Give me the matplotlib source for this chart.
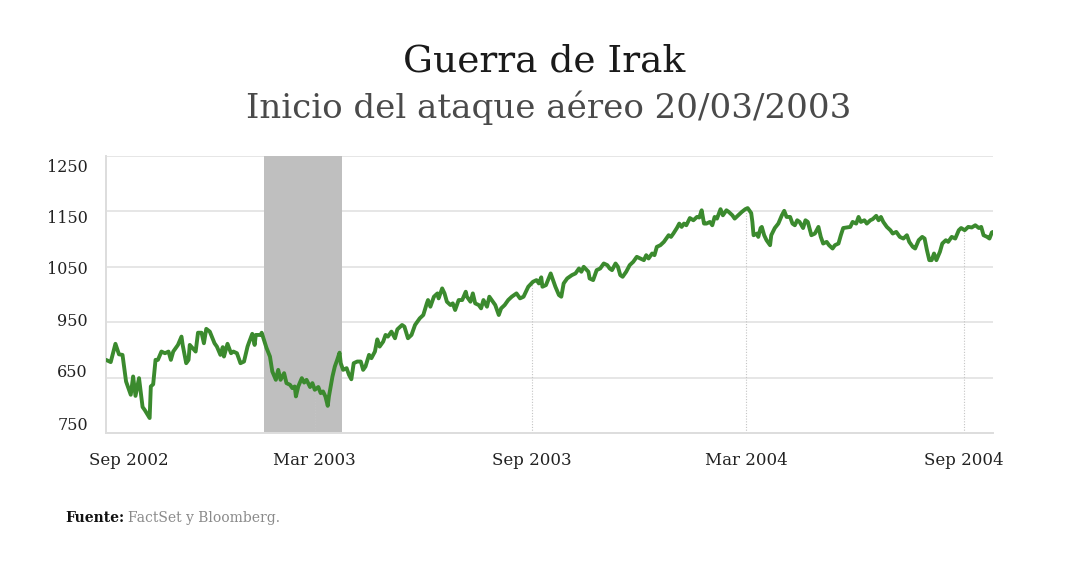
import matplotlib

matplotlib.use("Agg")
import matplotlib.dates as mdates
import matplotlib.pyplot as plt
import numpy as np
import pandas as pd

# índice (cierres aproximados)
dates = [
    "2002-09-05", "2002-09-09", "2002-09-13", "2002-09-16", "2002-09-19", "2002-09-22",
    "2002-09-26", "2002-09-28", "2002-09-30", "2002-10-03", "2002-10-06", "2002-10-08",
    "2002-10-12", "2002-10-13", "2002-10-15", "2002-10-17", "2002-10-19", "2002-10-22",
    "2002-10-25", "2002-10-28", "2002-10-30", "2002-11-01", "2002-11-05", "2002-11-08",
    "2002-11-09", "2002-11-12", "2002-11-14", "2002-11-15", "2002-11-20", "2002-11-22",
    "2002-11-25", "2002-11-27", "2002-11-29", "2002-12-02", "2002-12-06", "2002-12-08",
    "2002-12-11", "2002-12-13", "2002-12-14", "2002-12-17", "2002-12-20", "2002-12-22",
    "2002-12-25", "2002-12-28", "2002-12-31", "2003-01-03", "2003-01-04", "2003-01-07",
    "2003-01-09", "2003-01-10", "2003-01-14", "2003-01-15", "2003-01-19", "2003-01-22",
    "2003-01-24", "2003-01-27", "2003-01-29", "2003-01-31", "2003-02-03", "2003-02-05",
    "2003-02-08", "2003-02-10", "2003-02-12", "2003-02-13", "2003-02-15", "2003-02-18",
    "2003-02-20", "2003-02-22", "2003-02-25", "2003-02-27", "2003-03-01", "2003-03-04",
    "2003-03-06", "2003-03-08", "2003-03-10", "2003-03-12", "2003-03-13", "2003-03-16",
    "2003-03-18", "2003-03-20", "2003-03-22", "2003-03-23", "2003-03-25", "2003-03-28",
    "2003-03-30", "2003-04-01", "2003-04-03", "2003-04-06", "2003-04-09", "2003-04-11",
    "2003-04-13", "2003-04-16", "2003-04-18", "2003-04-21", "2003-04-23", "2003-04-25",
    "2003-04-28", "2003-04-30", "2003-05-02", "2003-05-05", "2003-05-08", "2003-05-10",
    "2003-05-14", "2003-05-16", "2003-05-19", "2003-05-22", "2003-05-25", "2003-05-29",
    "2003-06-01", "2003-06-04", "2003-06-05", "2003-06-07", "2003-06-10", "2003-06-13",
    "2003-06-14", "2003-06-17", "2003-06-19", "2003-06-21", "2003-06-24", "2003-06-26",
    "2003-06-28", "2003-07-01", "2003-07-04", "2003-07-07", "2003-07-08", "2003-07-11",
    "2003-07-13", "2003-07-15", "2003-07-18", "2003-07-20", "2003-07-22", "2003-07-25",
    "2003-07-27", "2003-07-29", "2003-08-01", "2003-08-04", "2003-08-06", "2003-08-09",
    "2003-08-12", "2003-08-15", "2003-08-19", "2003-08-22", "2003-08-25", "2003-08-29",
    "2003-09-02", "2003-09-05", "2003-09-07", "2003-09-09", "2003-09-10", "2003-09-13",
    "2003-09-17", "2003-09-19", "2003-09-21", "2003-09-24", "2003-09-26", "2003-09-28",
    "2003-10-01", "2003-10-05", "2003-10-08", "2003-10-11", "2003-10-13", "2003-10-15",
    "2003-10-19", "2003-10-20", "2003-10-23", "2003-10-26", "2003-10-29", "2003-11-01",
    "2003-11-04", "2003-11-06", "2003-11-08", "2003-11-11", "2003-11-13", "2003-11-15",
    "2003-11-17", "2003-11-20", "2003-11-23", "2003-11-26", "2003-11-29", "2003-12-02",
    "2003-12-05", "2003-12-07", "2003-12-09", "2003-12-12", "2003-12-14", "2003-12-16",
    "2003-12-19", "2003-12-22", "2003-12-24", "2003-12-26", "2003-12-28", "2003-12-30",
    "2004-01-02", "2004-01-04", "2004-01-06", "2004-01-08", "2004-01-10", "2004-01-13",
    "2004-01-16", "2004-01-19", "2004-01-21", "2004-01-23", "2004-01-25", "2004-01-27",
    "2004-01-30", "2004-02-01", "2004-02-03", "2004-02-05", "2004-02-08", "2004-02-10",
    "2004-02-13", "2004-02-15", "2004-02-18", "2004-02-20", "2004-02-23", "2004-02-26",
    "2004-02-29", "2004-03-02", "2004-03-05", "2004-03-06", "2004-03-07", "2004-03-10",
    "2004-03-11", "2004-03-13", "2004-03-14", "2004-03-16", "2004-03-18", "2004-03-21",
    "2004-03-22", "2004-03-25", "2004-03-28", "2004-03-31", "2004-04-02", "2004-04-04",
    "2004-04-07", "2004-04-09", "2004-04-11", "2004-04-13", "2004-04-15", "2004-04-18",
    "2004-04-20", "2004-04-22", "2004-04-25", "2004-04-28", "2004-05-01", "2004-05-03",
    "2004-05-05", "2004-05-08", "2004-05-10", "2004-05-13", "2004-05-15", "2004-05-18",
    "2004-05-20", "2004-05-22", "2004-05-25", "2004-05-28", "2004-05-30", "2004-06-02",
    "2004-06-04", "2004-06-06", "2004-06-09", "2004-06-11", "2004-06-14", "2004-06-16",
    "2004-06-19", "2004-06-21", "2004-06-23", "2004-06-25", "2004-06-28", "2004-07-01",
    "2004-07-03", "2004-07-06", "2004-07-09", "2004-07-12", "2004-07-15", "2004-07-17",
    "2004-07-20", "2004-07-22", "2004-07-25", "2004-07-28", "2004-07-30", "2004-08-01",
    "2004-08-03", "2004-08-05", "2004-08-07", "2004-08-09", "2004-08-12", "2004-08-14",
    "2004-08-17", "2004-08-19", "2004-08-22", "2004-08-25", "2004-08-28", "2004-08-30",
    "2004-09-02", "2004-09-05", "2004-09-08", "2004-09-11", "2004-09-14", "2004-09-16",
    "2004-09-18", "2004-09-21", "2004-09-23", "2004-09-25", "2004-09-26",
]
values = [
    882, 878, 911, 892, 891, 843, 819, 852, 817, 849, 797, 791,
    777, 834, 838, 882, 882, 897, 894, 897, 882, 897, 909, 924,
    909, 876, 882, 909, 897, 931, 931, 912, 938, 933, 912, 906,
    891, 905, 888, 911, 894, 897, 894, 876, 879, 906, 912, 929,
    909, 927, 927, 931, 904, 888, 861, 846, 864, 846, 858, 840,
    837, 831, 834, 816, 834, 849, 841, 846, 833, 840, 828, 833,
    822, 825, 816, 799, 816, 852, 870, 882, 895, 876, 864, 867,
    855, 847, 876, 879, 879, 864, 870, 891, 885, 897, 919, 906,
    915, 927, 924, 933, 921, 937, 945, 942, 921, 927, 945, 957,
    963, 984, 990, 978, 996, 1002, 993, 1011, 1002, 987, 981, 984,
    972, 990, 990, 1005, 996, 987, 1002, 984, 981, 975, 990, 978,
    996, 990, 981, 963, 975, 981, 990, 996, 1002, 993, 996, 1014,
    1023, 1026, 1020, 1031, 1014, 1017, 1038, 1026, 1014, 999, 996, 1020,
    1029, 1035, 1038, 1047, 1041, 1050, 1041, 1029, 1026, 1044, 1047, 1056,
    1053, 1047, 1044, 1056, 1050, 1035, 1032, 1041, 1053, 1059, 1068, 1065,
    1062, 1071, 1065, 1074, 1071, 1086, 1089, 1095, 1101, 1107, 1104, 1110,
    1120, 1128, 1122, 1128, 1125, 1138, 1134, 1140, 1139, 1152, 1128, 1128,
    1131, 1125, 1140, 1137, 1154, 1143, 1152, 1149, 1143, 1137, 1143, 1149,
    1154, 1156, 1147, 1131, 1107, 1110, 1104, 1120, 1122, 1107, 1098, 1089,
    1107, 1120, 1128, 1143, 1151, 1140, 1140, 1128, 1125, 1134, 1131, 1120,
    1134, 1131, 1107, 1110, 1122, 1104, 1092, 1095, 1089, 1083, 1089, 1092,
    1107, 1120, 1121, 1122, 1131, 1128, 1140, 1131, 1134, 1128, 1134, 1136,
    1142, 1134, 1140, 1131, 1122, 1116, 1110, 1113, 1104, 1101, 1107, 1095,
    1086, 1083, 1098, 1104, 1101, 1080, 1062, 1062, 1074, 1062, 1077, 1092,
    1098, 1095, 1104, 1101, 1116, 1120, 1116, 1122, 1121, 1125, 1120, 1122,
    1107, 1104, 1101, 1112, 1113,
]

# periodo sombreado alrededor del inicio del ataque
shade_start = "2003-01-17"
shade_end = "2003-03-24"

grid_values = [750, 850, 950, 1050, 1150, 1250]
y_labels = ["750", "650", "950", "1050", "1150", "1250"]
x_ticks = ["2003-03-01", "2003-09-01", "2004-03-01", "2004-09-01"]
x_labels = ["Mar 2003", "Sep 2003", "Mar 2004", "Sep 2004"]
first_label = "Sep 2002"

title = "Guerra de Irak"
subtitle = "Inicio del ataque aéreo 20/03/2003"
source_label = "Fuente:"
source_text = "FactSet y Bloomberg."

# en el original las etiquetas del eje y no caen justo sobre la rejilla
Y_LABEL_POS = [768, 862, 954, 1048, 1140, 1232]

GREEN = "#3b8a2e"
SERIF = "DejaVu Serif"
plt.rcParams["font.family"] = [SERIF, "DejaVu Sans"]

fig = plt.figure(figsize=(10.8, 5.61), dpi=100)
ax = fig.add_axes([106 / 1080, 1 - 433 / 561, (993 - 106) / 1080, (433 - 156) / 561])

t = pd.to_datetime(dates)
tn = mdates.date2num(t)

ax.axvspan(pd.Timestamp(shade_start), pd.Timestamp(shade_end), color="#bfbfbf", lw=0, zorder=1)
for g in grid_values:
    ax.axhline(g, color="#e6e6e6", lw=1.4, zorder=0)

for d in x_ticks:
    dn = mdates.date2num(pd.Timestamp(d))
    ax.vlines(dn, grid_values[0], np.interp(dn, tn, values), colors="#c4c4c4",
              linestyles=(0, (1, 1.5)), lw=0.8, zorder=2)

ax.plot(t, values, color=GREEN, lw=2.8, solid_joinstyle="round", solid_capstyle="round", zorder=3)

ax.set_xlim(t[0], t[-1])
ax.set_ylim(grid_values[0], grid_values[-1])

ax.set_yticks(Y_LABEL_POS)
ax.set_yticklabels(y_labels)
ax.set_xticks(pd.to_datetime(x_ticks))
ax.set_xticklabels(x_labels)
ax.tick_params(axis="y", length=0, pad=13, labelsize=11.5, labelcolor="#222222")
ax.tick_params(axis="x", length=0, pad=14, labelsize=12, labelcolor="#222222")
ax.annotate(first_label, xy=(0.026, 0), xycoords="axes fraction", xytext=(0, -14),
            textcoords="offset points", ha="center", va="top", fontsize=12, color="#222222")

for side in ("top", "right"):
    ax.spines[side].set_visible(False)
for side in ("left", "bottom"):
    ax.spines[side].set_color("#dddddd")
    ax.spines[side].set_linewidth(1.4)

fig.text(0.504, 1 - 71 / 561, title, ha="center", va="baseline", fontsize=27, color="#1a1a1a")
fig.text(0.508, 1 - 118 / 561, subtitle, ha="center", va="baseline", fontsize=24.5, color="#4a4a4a")

src = fig.text(65 / 1080, 1 - 522 / 561, source_label, ha="left", va="baseline", fontsize=10,
               fontweight="bold", color="#111111")
fig.canvas.draw()
ax.annotate(source_text, xy=(1, 0), xycoords=src, xytext=(3, 0), textcoords="offset points",
            ha="left", va="bottom", fontsize=10, color="#8a8a8a", annotation_clip=False)

fig.savefig("out.png", dpi=100)
